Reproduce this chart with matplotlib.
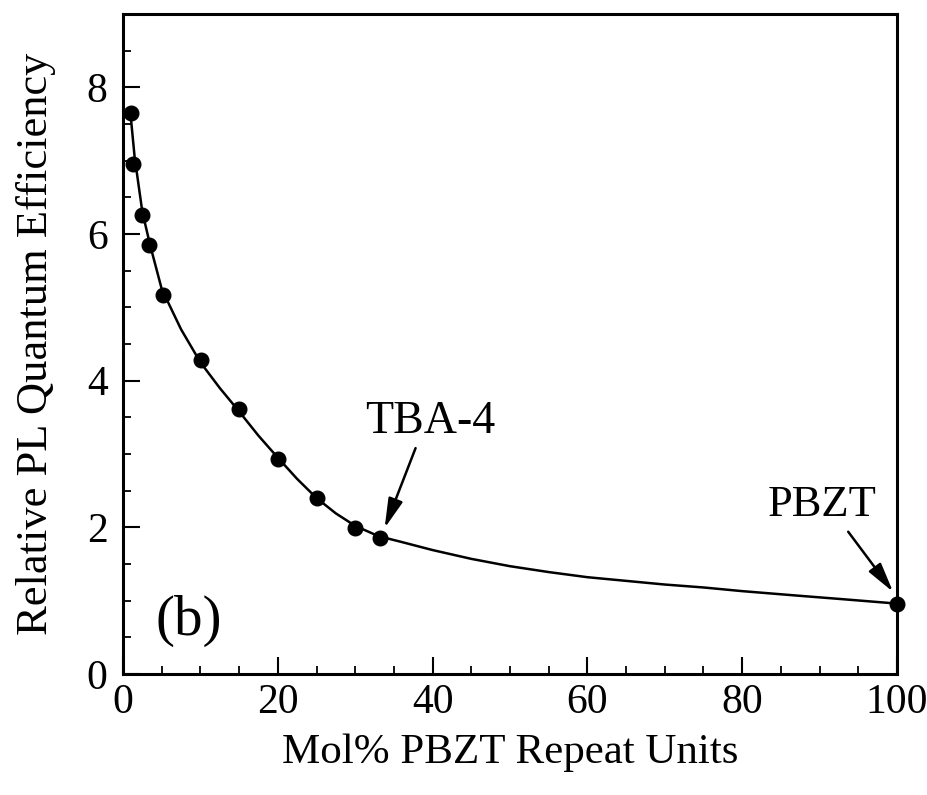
import matplotlib
matplotlib.use("Agg")
import matplotlib.pyplot as plt

# measured data points
mol_pct = [1.0, 1.3, 2.4, 3.4, 5.2, 10.1, 15.0, 20.0, 25.0, 30.0, 33.2, 100.0]
rel_qe = [7.65, 6.96, 6.26, 5.85, 5.17, 4.28, 3.61, 2.93, 2.40, 1.99, 1.85, 0.95]

# fitted curve
curve_x = [1.0, 1.5, 2.5, 3.5, 5.0, 7.5, 10.0, 12.5, 15.0, 17.5, 20.0, 22.5, 25.0,
           27.5, 30.0, 33.0, 36.0, 40.0, 45.0, 50.0, 55.0, 60.0, 65.0, 70.0, 75.0,
           80.0, 87.0, 93.0, 100.0]
curve_y = [7.60, 7.05, 6.30, 5.85, 5.25, 4.70, 4.25, 3.90, 3.58, 3.25, 2.95, 2.66, 2.40,
           2.19, 2.02, 1.88, 1.80, 1.69, 1.57, 1.47, 1.39, 1.32, 1.27, 1.22, 1.18,
           1.13, 1.07, 1.02, 0.96]

x_ticks = [0, 20, 40, 60, 80, 100]
y_ticks = [0, 2, 4, 6, 8]

plt.rcParams['font.family'] = ['Liberation Serif', 'DejaVu Serif']

fig = plt.figure(figsize=(9.27, 7.95), dpi=100)
ax = fig.add_axes([0.1327, 0.1522, 0.8349, 0.8302])

ax.plot(curve_x, curve_y, color='black', lw=1.8, zorder=2)
ax.plot(mol_pct, rel_qe, 'o', color='black', ms=10.5, zorder=3, clip_on=False)

ax.set_xlim(0, 100)
ax.set_ylim(0, 9)
ax.set_xticks(x_ticks)
ax.set_yticks(y_ticks)
ax.set_xticks(range(0, 101, 5), minor=True)
ax.set_yticks([i * 0.5 for i in range(0, 19)], minor=True)
ax.tick_params(which='major', direction='in', length=12, width=1.5,
               labelsize=30, top=False, right=False)
ax.tick_params(axis='x', which='major', pad=7)
ax.tick_params(axis='y', which='major', pad=11)
ax.tick_params(which='minor', direction='in', length=6, width=1.3,
               top=False, right=False)
for s in ax.spines.values():
    s.set_linewidth(2.2)

ax.set_xlabel('Mol% PBZT Repeat Units', fontsize=31)
ax.set_ylabel('Relative PL Quantum Efficiency', fontsize=32)
ax.xaxis.set_label_coords(0.5, -0.09)
ax.yaxis.set_label_coords(-0.087, 0.5)

arrowprops = dict(arrowstyle='-|>,head_length=1.8,head_width=0.45', color='black',
                  lw=1.8, shrinkA=0, shrinkB=0)
ax.annotate('', xy=(33.8, 1.99), xytext=(37.8, 3.08), arrowprops=arrowprops)
ax.annotate('', xy=(99.5, 1.12), xytext=(93.7, 1.94), arrowprops=arrowprops)
ax.text(39.7, 3.44, 'TBA-4', fontsize=33, ha='center', va='center')
ax.text(90.3, 2.31, 'PBZT', fontsize=32, ha='center', va='center')
ax.text(8.5, 0.72, '(b)', fontsize=41, ha='center', va='center')

fig.savefig('out.png', dpi=100)
